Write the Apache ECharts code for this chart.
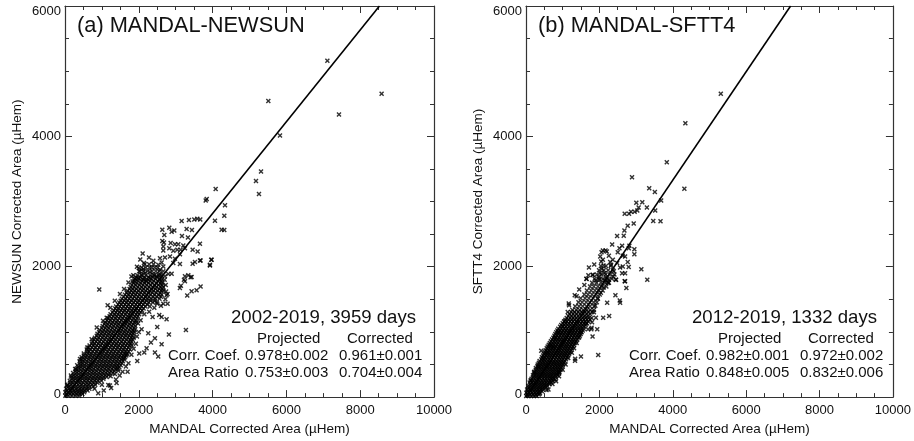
<!DOCTYPE html>
<html><head><meta charset="utf-8">
<style>html,body{margin:0;padding:0;background:#fff}#c{width:914px;height:441px}</style>
<script src="https://cdn.jsdelivr.net/npm/echarts@6/dist/echarts.min.js"></script>
</head><body><div id="c"></div>
<script>
const xTicks = {min:0,max:10000,major:2000};
const yTicks = {min:0,max:6000,major:2000};
const fitLineA = [[0,0],[8522,6000]];
const fitLineB = [[0,0],[7211,6000]];
const scatterA = [[7110,5160],[5510,4543],[8580,4655],[7425,4335],[5826,4015],[5312,3462],[5176,3315],[5257,3117],[4083,3193],[3840,3041],[3813,3015],[4336,2943],[4317,2782],
[4064,2706],[3161,2701],[3359,2716],[3504,2726],[3585,2736],[3666,2726],[2637,2569],[2826,2599],[2890,2538],[2962,2554],[3296,2579],[3440,2564],[4244,2569],[4316,2564],[2691,2488],[3170,2472],[3332,2447],[2637,2396],[2682,2371],[2863,2366],[3657,2351],[2104,2203],[2664,2310],[2664,2249],[2826,2285],[2980,2345],[3070,2345],[3206,2325],[2935,2244],[3043,2259],[3133,2259],[3251,2285],[3459,2259],[3594,2234],[3115,2193],[2276,2142],[2140,2056],[2393,2092],[2574,2132],[2709,2142],[2845,2158],[2980,2122],[3657,2097],[3973,2107],[3522,2071],[3459,2046],[3928,2020],[2348,1990],[2303,1919],[2528,2031],[2619,2066],[2664,2005],[2935,2056],[3115,2041],[2574,1955],[2664,1929],[2122,1965],[2032,1929],[2077,1878],[2890,1894],[3251,1853],[3341,1868],[3431,1843],[3224,1802],[3251,1777],[1851,1868],[1896,1812],[1833,1777],[2393,1878],[2483,1853],[2303,1828],[2167,1904],[1987,1828],[2122,1802],[2212,1777],[2574,1878],[2709,1853],[2799,1889],
[929,1649],[3277,1030],[2816,959],[2618,812],[2437,903],[2329,837],[2437,685],[2527,624],[2211,751],[2148,685],[2012,670],[1958,553],[1696,390],[1398,218],[1173,187],[1218,177],[1236,319],[1353,355],[1444,406],[1669,659],[1597,598],[2256,979],[2500,1076],[2076,1040],[2374,1228],[2554,1259],[2618,1228],[2753,1193],[2500,1431],[2663,1431],[2780,1431],[2753,1563],[2780,1583],[3114,1675],[3141,1710],[3403,1837],[3313,1558],[3430,1624],[3566,1639],[3674,1695],[3927,2030],[3963,2106],[3674,2096],
[1720,520],[1650,470],[1560,390],[1480,330],[1380,270],[1250,140],[1050,100],[900,60],[800,130],[1000,190],[1800,650],[1860,740],[1920,820],[1950,930],[2000,1000],[1980,1130],[2050,1180],[2150,1270],[2280,1310],[2420,1370],[2600,1400],[2720,1500],[2740,1620],[2730,1720],[2700,1800],
[1130,1218],[1030,1170],[860,1066],[722,888],[605,760],[407,584],[298,433],[160,330],[60,180],[1156,1411],[1230,1370],[1350,1480],[1490,1580],[1600,1660],[1720,1760],[1800,1850],[1950,2000],[2000,1980],[2040,2110]];
const cloudA = [
[20,10,95,190,290,385],[75,8,85,170,260,350,440,520],[130,30,110,205,300,395,480,575,660],[190,75,165,260,360,450,555,640,735,820],
[250,130,225,320,415,520,610,705,800,890,985],[310,175,275,370,470,565,670,760,860,950,1050,1130],[370,220,320,425,515,620,720,810,915,1010,1105,1200,1290],
[430,275,375,480,580,680,775,880,975,1075,1170,1270,1365,1430],[490,330,430,530,640,735,835,940,1035,1130,1230,1330,1420,1510],[550,395,490,590,695,790,895,990,1090,1190,1290,1385,1480,1570],
[610,450,550,650,750,855,950,1050,1150,1250,1345,1450,1540,1630],[670,510,610,710,815,910,1010,1115,1210,1310,1410,1510,1605,1690],[730,590,685,785,880,985,1085,1180,1285,1380,1480,1575,1670,1760],
[790,665,760,860,960,1060,1155,1255,1355,1450,1555,1650,1745,1810],[850,745,840,935,1035,1135,1235,1330,1430,1530,1625,1725,1800],[910,810,910,1010,1105,1210,1305,1405,1505,1600,1700,1790,1860],
[970,880,975,1075,1175,1270,1375,1470,1570,1665,1765,1850],[1030,945,1045,1140,1240,1340,1440,1535,1635,1735,1830,1890],[1090,1020,1120,1215,1315,1415,1510,1610,1710,1810,1905],
[1150,1090,1185,1285,1385,1480,1585,1680,1780,1880,1935],[1210,1165,1260,1360,1460,1555,1655,1755,1850,1950],[1270,1235,1335,1430,1530,1630,1730,1825,1925,2010],
[1330,1320,1415,1515,1610,1710,1810,1910,2000,2090],[1390,1385,1480,1580,1680,1775,1880,1975,2075,2180,2300],[1450,1470,1565,1660,1760,1860,1960,2055,2160,2270,2380,2490],
[1510,1540,1640,1735,1835,1935,2030,2130,2230,2330,2440,2560],[1570,1625,1720,1815,1915,2015,2120,2210,2320,2430,2540,2620],[1630,1690,1790,1885,1985,2090,2190,2290,2400,2510,2610,2670],
[1690,1780,1870,1975,2075,2170,2275,2375,2480,2585,2660],[1750,1850,1945,2050,2150,2260,2360,2470,2580,2640],[1810,1900,2000,2110,2220,2330,2450,2560,2620],
[1870,1960,2070,2190,2310,2420,2530,2610],[1930,2010,2130,2240,2360,2460,2555],[1990,2075,2190,2290,2430,2510],[2040,2160,2280,2400],
[48,40,130,215,305,400,470],[102,60,150,250,345,440,530,610],[160,90,185,285,380,470,560,655,760],[220,140,220,310,410,500,600,690,790,880],
[280,190,280,375,470,570,655,755,850,950,1040],[340,240,325,420,520,615,710,815,905,1000,1095,1180],[400,290,375,470,565,670,765,860,960,1060,1160,1250,1340],
[460,360,430,530,630,725,830,925,1025,1125,1220,1320,1410,1470],[520,410,480,580,685,785,880,985,1085,1180,1275,1375,1470,1545],[580,455,540,640,740,840,945,1040,1140,1235,1340,1435,1530,1600],
[640,510,600,700,800,905,1005,1100,1195,1300,1395,1495,1590,1660],[700,600,655,755,860,960,1060,1165,1260,1360,1460,1560,1650,1725],[760,640,735,830,930,1030,1130,1230,1330,1430,1525,1620,1720],
[820,730,805,905,1005,1105,1205,1305,1400,1495,1595,1690,1780],[880,790,885,980,1085,1185,1280,1380,1480,1575,1675,1770,1835],[940,860,955,1055,1155,1255,1350,1450,1550,1650,1745,1830],
[1000,925,1025,1120,1220,1320,1420,1515,1615,1710,1805,1880],[1060,1000,1095,1190,1290,1390,1485,1580,1680,1780,1880],[1120,1065,1160,1260,1360,1455,1555,1650,1750,1845],
[1180,1140,1235,1335,1430,1530,1630,1725,1825,1925],[1240,1210,1310,1405,1505,1600,1700,1800,1895,1975],[1300,1285,1385,1480,1580,1680,1775,1870,1965,2050],
[1360,1360,1450,1550,1650,1745,1845,1945,2040,2130],[1420,1440,1530,1630,1725,1825,1925,2020,2120,2230],[1480,1510,1610,1705,1805,1905,2005,2105,2210,2320,2440],
[1540,1590,1690,1785,1885,1985,2080,2180,2280,2390,2490,2600],[1600,1670,1760,1855,1955,2055,2160,2260,2365,2470,2580],[1660,1750,1840,1935,2035,2130,2235,2340,2450,2555,2640],
[1720,1815,1915,2015,2115,2220,2325,2430,2535,2625],[1780,1880,1975,2085,2195,2305,2410,2520,2610],[1840,1930,2040,2150,2265,2375,2490]];
const scatterB = [[5309,4655],[4343,4203],[3837,3604],[2889,3371],[3358,3203],[3512,3147],[4316,3198],[3006,2980],[3169,2990],[3683,3015],[3069,2909],[3295,2909],[3521,2863],[3033,2863],[2961,2843],[2862,2843],[2808,2812],[2690,2812],
[3468,2701],[3666,2696],[2935,2665],[2772,2630],[2682,2554],[2664,2477],[2483,2472],[2348,2340],[2619,2320],[2547,2285],[2818,2320],[2800,2285],[2953,2269],[2953,2193],[2501,2224],[2095,2249],[2167,2249],[2059,2224],[2203,2234],[2023,2158],[2258,2168],[2637,2168],[2700,2158],[2095,2107],[2366,2107],[1860,2036],[1716,1990],[2050,2081],[2113,2020],[2294,2071],[2321,2031],[2483,2056],[2772,2071],[2565,1990],[2637,2005],[2799,1995],[3143,1960],[2068,1965],[2023,1904],[2140,1904],[2393,1929],[2619,1899],[2700,1899],[1824,1873],[1987,1843],[1644,1817],[2005,1802],[1896,1787],[2185,1838],[2456,1802],[2700,1777],[3305,1802],[2258,1802],[2140,1787],[2231,1767],
[1968,644],[1498,624],[1336,558],[1340,590],[2266,1243],[2103,1218],[1941,1040],[1814,928],[1905,1218],[1787,1065],[2437,1563],[2555,1482],[2565,1447],[2212,1446],[2735,1675],[2690,1776],[2446,1802],
[415,710],[1173,1411],[1137,1304],[1381,1548],[1652,1812],[1814,1878],[613,116],[369,50],[704,279],[821,243],[902,380],
[1500,1000],[1450,920],[1380,830],[1310,750],[1250,680],[1150,600],[1080,500],[1000,420],[900,320],[800,270],[720,200],[560,110],[1690,1040],[1780,1040],[1640,1130],[1800,1150],[1850,1300],[1890,1400],[1960,1510],[2040,1600],[2120,1680],[2240,1750],[2380,1850],
[1165,1436],[1057,1167],[786,914],[741,762],[1328,1563],[1450,1650],[1590,1720],[1700,1870],[1000,1090],[880,1000],[680,800],[580,690],[470,600],[340,470],[220,380],[130,260]];
const cloudB = [
[15,5,70,145,220,290],[65,12,85,165,240,315,380],[115,30,105,185,260,335,410,460],[170,65,140,220,295,370,445,520,575],
[225,100,175,250,330,405,480,555,630,690],[280,150,225,300,380,455,530,605,680,755],[335,190,265,345,420,495,570,650,725,800,860],[390,230,305,385,460,535,610,690,765,840,910],
[445,270,345,425,500,575,650,730,805,880,960],[500,320,395,475,550,625,705,780,855,935,1010],[555,370,445,520,600,675,750,825,905,980,1055],[610,435,510,590,665,740,815,895,970,1045,1120],
[665,490,565,640,720,795,870,945,1025,1100,1175],[720,535,615,690,765,845,920,995,1075,1150,1225],[775,590,665,745,820,895,970,1050,1125,1200,1280],[830,650,725,800,875,955,1030,1105,1185,1260,1330],
[885,710,790,865,940,1015,1095,1170,1245,1320,1400],[940,775,850,925,1005,1080,1155,1235,1310,1385,1465],[995,825,905,980,1055,1135,1210,1285,1360,1440,1515],[1050,880,960,1040,1110,1190,1265,1340,1420,1495,1570],
[1105,960,1050,1135,1215,1300,1385,1465,1545,1625],[1160,1035,1120,1205,1285,1375,1450,1535,1620,1700],[1215,1110,1200,1285,1370,1455,1540,1620,1705,1790],[1275,1190,1285,1380,1475,1560,1655,1745],
[1335,1265,1370,1465,1560,1660,1750,1850],[1395,1340,1445,1545,1650,1745,1855],[1455,1430,1530,1640,1740,1845,1930],[1515,1490,1610,1715,1830,1950],[1575,1590,1690,1800,1915,2010],
[1635,1660,1775,1880,1990,2090],[1695,1745,1850,1960,2070,2190],[1755,1800,1920,2040,2150,2260],[1815,1870,1990,2100,2220,2340],[1880,1930,2050,2170,2290,2410],[1945,1990,2120,2240,2370],[2010,2040,2180,2310],
[40,30,110,190,270,345],[90,45,125,205,285,360,430],[142,70,150,225,310,385,460,535],[198,115,190,265,340,420,495,570,640],
[252,130,210,285,365,440,515,590,665,730],[308,190,270,345,420,500,575,650,730,810],[362,220,300,380,455,530,610,685,760,840,900],[418,265,340,420,495,570,650,725,800,880,940],
[472,310,385,460,540,615,690,770,845,920,990],[528,350,430,505,585,660,735,810,890,965,1035],[582,420,480,560,635,710,790,865,940,1015,1090],[638,465,540,615,695,770,845,920,1000,1075,1150],
[692,510,590,665,745,820,895,970,1050,1125,1200],[748,565,640,715,795,870,945,1025,1100,1175,1250],[802,620,695,770,850,925,1000,1080,1155,1230,1305],[858,680,755,830,910,985,1060,1140,1215,1290,1365],
[912,745,820,895,970,1050,1125,1200,1280,1355,1430],[968,800,880,955,1030,1110,1185,1260,1335,1415,1490],[1022,855,935,1010,1085,1165,1240,1315,1395,1470,1545],[1078,930,1005,1090,1175,1255,1340,1420,1500,1585],
[1132,1000,1080,1160,1245,1330,1410,1495,1575,1660],[1188,1075,1160,1245,1325,1410,1495,1575,1660,1745],[1245,1150,1240,1330,1420,1510,1600,1690],[1305,1230,1325,1420,1515,1610,1700,1800]];
const panels = [
 {title:'(a) MANDAL-NEWSUN', yName:'NEWSUN Corrected Area (µHem)', period:'2002-2019, 3959 days',
  coef:['0.978±0.002','0.961±0.001'], ratio:['0.753±0.003','0.704±0.004']},
 {title:'(b) MANDAL-SFTT4', yName:'SFTT4 Corrected Area (µHem)', period:'2012-2019, 1332 days',
  coef:['0.982±0.001','0.972±0.002'], ratio:['0.848±0.005','0.832±0.006']}
];
function expand(rows){const o=[];rows.forEach(r=>{for(let i=1;i<r.length;i++)o.push([r[i],r[0]]);});return o;}
const FONT='"Liberation Sans",Arial,sans-serif', INK='#111', AXC='#333';
const X_MARK='path://M0 2L2 0L5 3L8 0L10 2L7 5L10 8L8 10L5 7L2 10L0 8L3 5Z';
const lefts=[65,526], W=369, TOP=6, H=394;
const grid=[],xAxis=[],yAxis=[],series=[],graphic=[];
const tick={show:true,inside:true,length:7,lineStyle:{color:AXC,width:1}};
const minor={show:true,splitNumber:4,length:4,lineStyle:{color:AXC,width:1}};
const data=[[fitLineA,expand(cloudA).concat(scatterA)],[fitLineB,expand(cloudB).concat(scatterB)]];
const plain=v=>String(v);
const yLabel=v=>v===0?'{z|0}':v===6000?'{m|6000}':String(v);
const richBase={fontFamily:FONT,fontSize:13,color:INK};
panels.forEach((p,i)=>{
  const L=lefts[i];
  grid.push({left:L,top:TOP,width:W,height:H,containLabel:false});
  const base={gridIndex:i,type:'value',splitLine:{show:false},axisLine:{show:true,onZero:false,lineStyle:{color:AXC,width:1.2}},axisTick:tick,minorTick:minor};
  xAxis.push(Object.assign({},base,{min:xTicks.min,max:xTicks.max,interval:xTicks.major,position:'bottom',
    name:'MANDAL Corrected Area (µHem)',nameLocation:'middle',nameGap:19,nameTextStyle:{fontFamily:FONT,fontSize:13.5,color:INK},
    axisLabel:{fontFamily:FONT,fontSize:13,color:INK,margin:7,formatter:plain}}));
  xAxis.push(Object.assign({},base,{min:xTicks.min,max:xTicks.max,interval:xTicks.major,position:'top',axisLabel:{show:false}}));
  yAxis.push(Object.assign({},base,{min:yTicks.min,max:yTicks.max,interval:yTicks.major,position:'left',
    name:p.yName,nameLocation:'middle',nameGap:41,nameTextStyle:{fontFamily:FONT,fontSize:13.5,color:INK},
    axisLabel:{fontFamily:FONT,fontSize:13,color:INK,margin:4,formatter:yLabel,
      rich:{z:Object.assign({padding:[0,0,5,0]},richBase),m:Object.assign({padding:[11,0,0,0]},richBase)}}}));
  yAxis.push(Object.assign({},base,{min:yTicks.min,max:yTicks.max,interval:yTicks.major,position:'right',axisLabel:{show:false}}));
  series.push({type:'scatter',xAxisIndex:i*2,yAxisIndex:i*2,data:data[i][1],symbol:X_MARK,symbolSize:5,itemStyle:{color:'#000'},silent:true,animation:false,large:false,clip:true});
  series.push({type:'line',xAxisIndex:i*2,yAxisIndex:i*2,data:data[i][0],symbol:'none',lineStyle:{color:'#000',width:1.6},silent:true,animation:false,clip:true,z:5});
  const t=(text,x,y,size,align)=>graphic.push({type:'text',x:L+x,y:y,z:20,silent:true,style:{text,x:0,y:0,fill:INK,font:size+'px '+FONT,textAlign:align||'left',textVerticalAlign:'middle'}});
  t(p.title,12,26,21.8);
  t(p.period,166,318,18.6);
  t('Projected',192,339,15);
  t('Corrected',282,339,15);
  t('Corr. Coef.',103,355.5,15);
  t(p.coef[0],180,355.5,15);
  t(p.coef[1],274,355.5,15);
  t('Area Ratio',103,373,15);
  t(p.ratio[0],180,373,15);
  t(p.ratio[1],274,373,15);
});
const chart=echarts.init(document.getElementById('c'),null,{renderer:'canvas'});
chart.setOption({animation:false,backgroundColor:'#fff',grid,xAxis,yAxis,series,graphic});
</script></body></html>
